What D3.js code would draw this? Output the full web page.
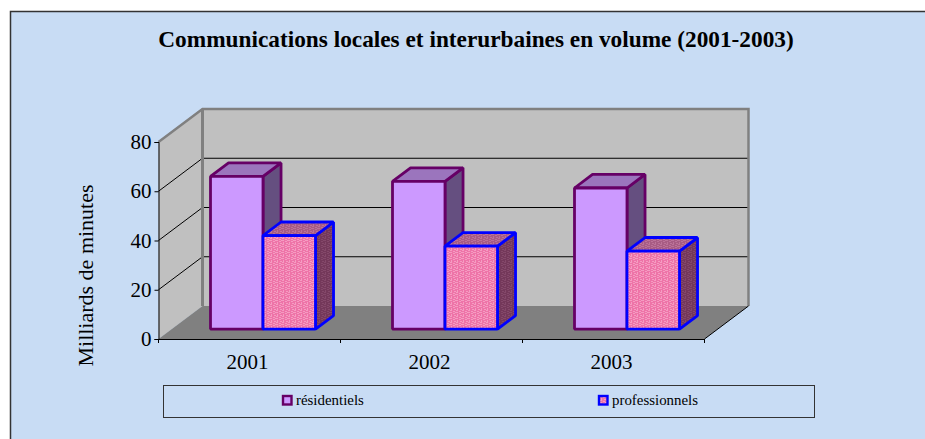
<!DOCTYPE html>
<html><head><meta charset="utf-8">
<script src="https://cdn.jsdelivr.net/npm/d3@7"></script>
<style>html,body{margin:0;padding:0;background:#fff}svg{display:block}text{font-family:"Liberation Serif",serif;fill:#000}</style>
</head><body><div id="c"></div>
<script>
const years = ["2001","2002","2003"];
const residentiels = [62,60,57.3];
const professionnels = [38,33.7,31.7];
const yTicks = [0,20,40,60,80];
const seriesNames = ["résidentiels","professionnels"];
const title = "Communications locales et interurbaines en volume (2001-2003)";
const yTitle = "Milliards de minutes";

const W=925,H=439;
const svg=d3.select("#c").append("svg").attr("width",W).attr("height",H);
const defs=svg.append("defs");
function tile(id,base,light){
  const p=defs.append("pattern").attr("id",id).attr("patternUnits","userSpaceOnUse").attr("width",6).attr("height",6);
  p.append("rect").attr("width",6).attr("height",6).attr("fill",base);
  [[0,0,2,1],[3,1,2,1],[1,2,1,2],[4,3,2,1],[0,4,2,1],[3,5,2,1],[5,0,1,1]].forEach(r=>
    p.append("rect").attr("x",r[0]).attr("y",r[1]).attr("width",r[2]).attr("height",r[3]).attr("fill",light));
}
tile("pFront","#ee74a8","#f59cc2");
tile("pTop","#a85c84","#bb7399");
tile("pSide","#74385a","#84486a");

svg.append("rect").attr("x",10.5).attr("y",11.5).attr("width",W).attr("height",H).attr("fill","#c8dcf4").attr("stroke","#333").attr("stroke-width",1.5);

const x0=d3.scaleBand().domain(years).range([158.5,704.5]);
const y=d3.scaleLinear().domain([0,80]).range([339,142]);
const DX=44,DY=33;
const P=(xv,yv,d)=>[xv+d*DX,yv-d*DY];
const poly=a=>a.map(p=>p.join(",")).join(" ");
const left=x0.range()[0],right=x0.range()[1];

// walls and floor
svg.append("polygon").attr("points",poly([P(left,y(0),0),P(left,y(80),0),P(left,y(80),1),P(left,y(0),1)])).attr("fill","#c0c0c0");
svg.append("polygon").attr("points",poly([P(left,y(0),1),P(left,y(80),1),P(right,y(80),1),P(right,y(0),1)])).attr("fill","#c0c0c0");
svg.append("polygon").attr("points",poly([P(left,y(0),0),P(left,y(0),1),P(right,y(0),1),P(right,y(0),0)])).attr("fill","#808080");
// gridlines
yTicks.slice(1,-1).forEach(t=>{
  svg.append("polyline").attr("points",poly([P(left,y(t),0),P(left,y(t),1),P(right,y(t),1)])).attr("fill","none").attr("stroke","#000").attr("stroke-width",1);
});
// wall edges
svg.append("polyline").attr("points",poly([P(left,y(80),0),P(left,y(80),1),P(right,y(80),1),P(right,y(0),1)])).attr("fill","none").attr("stroke","#808080").attr("stroke-width",2.5);
svg.append("line").attr("x1",left+DX).attr("x2",left+DX).attr("y1",y(80)-DY).attr("y2",y(0)-DY).attr("stroke","#808080").attr("stroke-width",3);
svg.append("polyline").attr("points",poly([P(right,y(0),0),P(right,y(0),1)])).attr("fill","none").attr("stroke","#000").attr("stroke-width",1);

// bars
const x1=d3.scaleBand().domain(seriesNames).range([38.8,38.8+105]);
const D0=0.3,D1=0.71;
const styles={
 "résidentiels":{stroke:"#660066",front:"#cc99ff",top:"#9b75bd",side:"#654f80"},
 "professionnels":{stroke:"#0000ff",front:"url(#pFront)",top:"url(#pTop)",side:"url(#pSide)"}
};
years.forEach((yr,i)=>{
  [[seriesNames[0],residentiels[i]],[seriesNames[1],professionnels[i]]].forEach(([name,v])=>{
    const s=styles[name];
    const xa=x0(yr)+x1(name),xb=xa+x1.bandwidth();
    const g=svg.append("g").attr("stroke",s.stroke).attr("stroke-width",2.8).attr("stroke-linejoin","bevel");
    g.append("polygon").attr("points",poly([P(xb,y(0),D0),P(xb,y(v),D0),P(xb,y(v),D1),P(xb,y(0),D1)])).attr("fill",s.side);
    g.append("polygon").attr("points",poly([P(xa,y(v),D0),P(xa,y(v),D1),P(xb,y(v),D1),P(xb,y(v),D0)])).attr("fill",s.top);
    g.append("polygon").attr("points",poly([P(xa,y(0),D0),P(xa,y(v),D0),P(xb,y(v),D0),P(xb,y(0),D0)])).attr("fill",s.front);
  });
});

// axes
const ay=d3.axisLeft(y).tickValues(yTicks).tickSize(4).tickPadding(3);
const gy=svg.append("g").attr("transform",`translate(${left},0)`).call(ay);
const ax=d3.axisBottom(x0).tickSize(0).tickPadding(15);
const gx=svg.append("g").attr("transform",`translate(0,${y(0)})`).call(ax);
[left,x0("2002"),x0("2003"),right].forEach(t=>svg.append("line").attr("x1",t).attr("x2",t).attr("y1",y(0)).attr("y2",y(0)+4).attr("stroke","#000"));
[gy,gx].forEach(g=>{g.selectAll("path,line").attr("stroke","#000");g.selectAll("text").attr("font-family","Liberation Serif").attr("font-size",21).attr("fill","#000");});
gx.selectAll("text").attr("dy",".71em").attr("dx",-2);

svg.append("text").attr("x",476).attr("y",47).attr("text-anchor","middle").attr("font-size",23.3).attr("font-weight","bold").text(title);
svg.append("text").attr("transform","translate(93,275.5) rotate(-90)").attr("text-anchor","middle").attr("font-size",22).text(yTitle);

// legend
svg.append("rect").attr("x",163.5).attr("y",385.5).attr("width",651).attr("height",32).attr("fill","none").attr("stroke","#333").attr("stroke-width",1);
const lx=d3.scalePoint().domain(seriesNames).range([282,598]);
seriesNames.forEach(n=>{
  const s=styles[n];
  svg.append("rect").attr("x",lx(n)+1).attr("y",396).attr("width",8.5).attr("height",8.5).attr("fill",s.front).attr("stroke",s.stroke).attr("stroke-width",2.4);
  svg.append("text").attr("x",lx(n)+14).attr("y",405).attr("font-size",14.9).text(n);
});
</script></body></html>
